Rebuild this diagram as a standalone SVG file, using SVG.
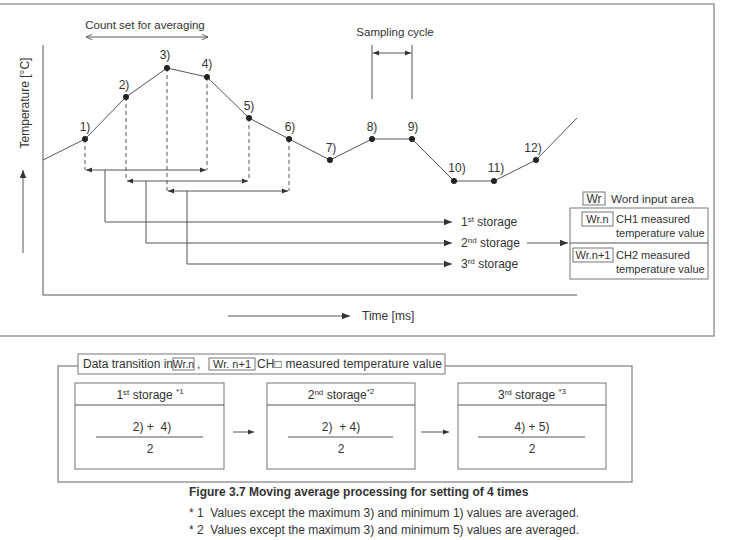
<svg xmlns="http://www.w3.org/2000/svg" width="733" height="540" viewBox="0 0 733 540">
<defs>
<marker id="ah" viewBox="0 0 10 10" refX="10" refY="5" markerWidth="8" markerHeight="8" markerUnits="userSpaceOnUse" orient="auto-start-reverse">
<path d="M0,1 L10,5 L0,9 z" fill="#333"/>
</marker>
<marker id="ahs" viewBox="0 0 10 10" refX="10" refY="5" markerWidth="7" markerHeight="6" markerUnits="userSpaceOnUse" orient="auto-start-reverse">
<path d="M0,1 L10,5 L0,9 z" fill="#333"/>
</marker>
<marker id="aho" viewBox="0 0 10 10" refX="10" refY="5" markerWidth="7" markerHeight="7" markerUnits="userSpaceOnUse" orient="auto-start-reverse">
<path d="M1,1 L10,5 L1,9" fill="none" stroke="#555" stroke-width="1.2"/>
</marker>
</defs>
<style>
text{font-family:"Liberation Sans",Arial,sans-serif;font-size:12px;fill:#333;white-space:pre}
.c{text-anchor:middle}
.s{font-size:11px}
.ln{stroke:#555;stroke-width:1;fill:none}
.dash{stroke:#555;stroke-width:1;stroke-dasharray:4,3;fill:none}
.frame{stroke:#999;stroke-width:1.5;fill:none}
.box{stroke:#777;stroke-width:1;fill:#fff}
.dot{fill:#222}
.sup{font-size:8px}
.b{font-weight:bold}
</style>
<rect width="733" height="540" fill="#fff"/>

<!-- top frame -->
<g id="frame-top">
<path class="frame" d="M0,4 H714 V336 H0"/>
</g>

<!-- axes -->
<g id="axes">
<path class="ln" d="M43,45 V295 H577"/>
<text transform="translate(29,103) rotate(-90)" class="c">Temperature [°C]</text>
<line class="ln" x1="23" y1="253" x2="23" y2="170" marker-end="url(#ah)"/>
<line class="ln" x1="228" y1="316" x2="350" y2="316" marker-end="url(#ah)"/>
<text x="362" y="320">Time [ms]</text>
</g>

<!-- connectors -->
<g id="connectors">
<polyline class="ln" points="43,160 85,139 126,97 167,68 207,77 249,118 289,139 330,160 372,139 412,139 454,181 494,181 536,160 577,118"/>
<line class="dash" x1="85" y1="139" x2="85" y2="170"/>
<line class="dash" x1="126" y1="97" x2="126" y2="181"/>
<line class="dash" x1="167" y1="68" x2="167" y2="191"/>
<line class="dash" x1="207" y1="77" x2="207" y2="170"/>
<line class="dash" x1="249" y1="118" x2="249" y2="181"/>
<line class="dash" x1="289" y1="139" x2="289" y2="191"/>
<line class="ln" x1="86" y1="170" x2="206" y2="170" marker-start="url(#ahs)" marker-end="url(#ahs)"/>
<line class="ln" x1="127" y1="181" x2="248" y2="181" marker-start="url(#ahs)" marker-end="url(#ahs)"/>
<line class="ln" x1="168" y1="191" x2="288" y2="191" marker-start="url(#ahs)" marker-end="url(#ahs)"/>
<polyline class="ln" points="105,170 105,222 452,222" marker-end="url(#ah)"/>
<polyline class="ln" points="146,181 146,243 452,243" marker-end="url(#ah)"/>
<polyline class="ln" points="187,191 187,264 452,264" marker-end="url(#ah)"/>
<line class="ln" x1="527" y1="243" x2="568" y2="243" marker-end="url(#ah)"/>
<line class="ln" x1="86" y1="37" x2="208" y2="37" stroke="#777" marker-start="url(#aho)" marker-end="url(#aho)"/>
<line class="ln" x1="372" y1="45" x2="372" y2="99"/>
<line class="ln" x1="412" y1="45" x2="412" y2="99"/>
<line class="ln" x1="373" y1="53" x2="411" y2="53" marker-start="url(#ahs)" marker-end="url(#ahs)"/>
<line class="ln" x1="233" y1="432" x2="254" y2="432" marker-end="url(#ahs)"/>
<line class="ln" x1="421" y1="432" x2="449" y2="432" marker-end="url(#ahs)"/>
</g>

<!-- points -->
<g id="points">
<circle class="dot" cx="85" cy="139" r="3"/><text class="c" x="85" y="131">1)</text>
<circle class="dot" cx="126" cy="97" r="3"/><text class="c" x="124" y="89">2)</text>
<circle class="dot" cx="167" cy="68" r="3"/><text class="c" x="165" y="59">3)</text>
<circle class="dot" cx="207" cy="77" r="3"/><text class="c" x="207" y="68">4)</text>
<circle class="dot" cx="249" cy="118" r="3"/><text class="c" x="249" y="110">5)</text>
<circle class="dot" cx="289" cy="139" r="3"/><text class="c" x="290" y="131">6)</text>
<circle class="dot" cx="330" cy="160" r="3"/><text class="c" x="331" y="152">7)</text>
<circle class="dot" cx="372" cy="139" r="3"/><text class="c" x="372" y="131">8)</text>
<circle class="dot" cx="412" cy="139" r="3"/><text class="c" x="413" y="131">9)</text>
<circle class="dot" cx="454" cy="181" r="3"/><text class="c" x="457" y="172">10)</text>
<circle class="dot" cx="494" cy="181" r="3"/><text class="c" x="496" y="172">11)</text>
<circle class="dot" cx="536" cy="160" r="3"/><text class="c" x="533" y="152">12)</text>
</g>

<g id="labels">
<text class="c" x="145" y="29" style="font-size:11.5px">Count set for averaging</text>
<text class="c" x="395" y="36" style="font-size:11.5px">Sampling cycle</text>
<text x="461" y="226">1<tspan class="sup" dy="-4">st</tspan><tspan dy="4"> storage</tspan></text>
<text x="461" y="247">2<tspan class="sup" dy="-4">nd</tspan><tspan dy="4"> storage</tspan></text>
<text x="461" y="268">3<tspan class="sup" dy="-4">rd</tspan><tspan dy="4"> storage</tspan></text>
</g>

<!-- word input area -->
<g id="word-input-area">
<rect class="box" x="583" y="192" width="22" height="13"/>
<text class="c" x="594" y="203">Wr</text>
<text x="611" y="203" style="font-size:11.7px">Word input area</text>
<rect class="box" x="570" y="208" width="138" height="71"/>
<line class="ln" x1="570" y1="243" x2="708" y2="243" stroke="#777"/>
<rect class="box" x="582" y="212" width="31" height="14"/>
<text class="c s" x="597.5" y="223">Wr.n</text>
<text class="s" x="616" y="223">CH1 measured</text>
<text class="s" x="616" y="237">temperature value</text>
<rect class="box" x="573" y="248" width="40" height="14"/>
<text class="c s" x="593" y="259">Wr.n+1</text>
<text class="s" x="616" y="259">CH2 measured</text>
<text class="s" x="616" y="273">temperature value</text>
</g>

<!-- bottom frame -->
<g id="data-transition">
<path class="frame" d="M78,366 H58 V482 H632 V366 H445" stroke-width="1.2"/>
<rect class="box" x="78" y="354" width="367" height="20"/>
<text x="83" y="368">Data transition in</text>
<rect class="box" x="173" y="358" width="21" height="12"/>
<text class="c s" x="183.5" y="368" style="font-size:10.5px">Wr.n</text>
<text x="197" y="368">,</text>
<rect class="box" x="209" y="358" width="46" height="12"/>
<text class="c s" x="232" y="368">Wr. n+1</text>
<text x="257" y="368" textLength="185">CH□ measured temperature value</text>
</g>

<g id="storage1">
<rect class="box" x="75" y="383" width="149" height="86"/>
<line class="ln" x1="75" y1="405" x2="224" y2="405" stroke="#777"/>
<text class="c" x="150" y="399">1<tspan class="sup" dy="-4">st</tspan><tspan dy="4"> storage </tspan><tspan class="sup" dy="-5">*1</tspan></text>
<text class="c" x="152" y="431">2) +  4)</text>
<line class="ln" x1="96" y1="437" x2="203" y2="437" stroke="#777"/>
<text class="c" x="150" y="453">2</text>
</g>
<g id="storage2">
<rect class="box" x="267" y="383" width="148" height="86"/>
<line class="ln" x1="267" y1="405" x2="415" y2="405" stroke="#777"/>
<text class="c" x="341" y="399">2<tspan class="sup" dy="-4">nd</tspan><tspan dy="4"> storage</tspan><tspan class="sup" dy="-5">*2</tspan></text>
<text class="c" x="341" y="431">2)  + 4)</text>
<line class="ln" x1="288" y1="437" x2="393" y2="437" stroke="#777"/>
<text class="c" x="341" y="453">2</text>
</g>
<g id="storage3">
<rect class="box" x="458" y="383" width="148" height="86"/>
<line class="ln" x1="458" y1="405" x2="606" y2="405" stroke="#777"/>
<text class="c" x="532" y="399">3<tspan class="sup" dy="-4">rd</tspan><tspan dy="4"> storage </tspan><tspan class="sup" dy="-5">*3</tspan></text>
<text class="c" x="532" y="431">4) + 5)</text>
<line class="ln" x1="478" y1="437" x2="585" y2="437" stroke="#777"/>
<text class="c" x="532" y="453">2</text>
</g>

<g id="caption">
<text class="b" x="189" y="496">Figure 3.7 Moving average processing for setting of 4 times</text>
<text x="189" y="517">* 1  Values except the maximum 3) and minimum 1) values are averaged.</text>
<text x="189" y="534">* 2  Values except the maximum 3) and minimum 5) values are averaged.</text>
</g>
</svg>
